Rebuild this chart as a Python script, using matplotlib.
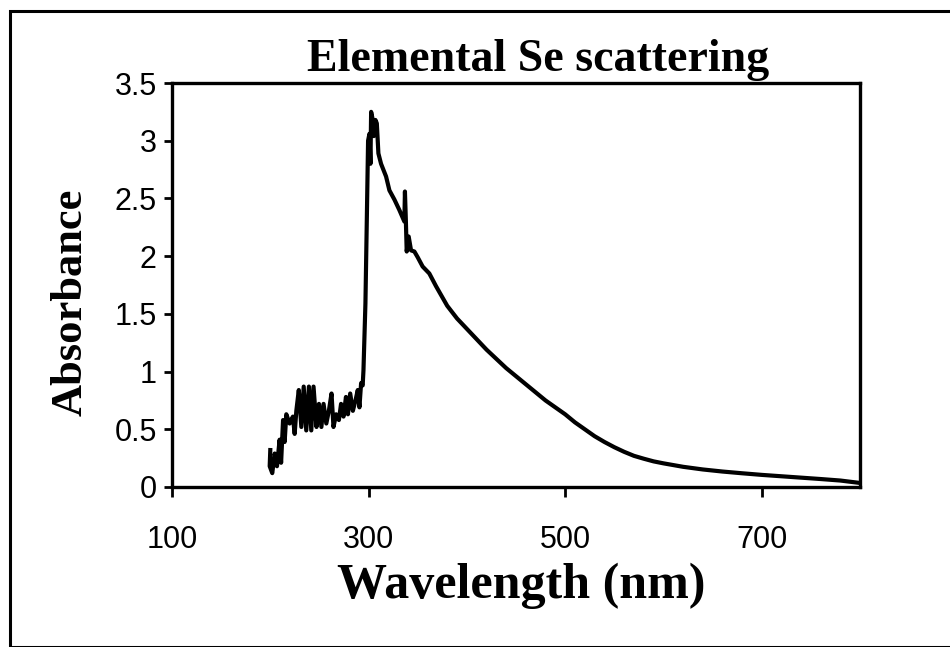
import matplotlib.pyplot as plt
from matplotlib.patches import Rectangle

# wavelength (nm) and absorbance
wavelength = [200, 199.4, 202, 204.5, 206.8, 209.5, 211, 213, 214.6, 216.3,
              219.7, 223, 224.8, 226.5, 229, 231.6, 234, 236.6, 239.3, 241.7,
              244, 247, 249.5, 252, 254.2, 257, 259.6, 262.3, 264.3, 267,
              269.8, 272, 274.5, 277, 279, 281.3, 284, 286.7, 289, 290.7,
              292.4, 294, 294.8, 296.8, 298.2, 299.5, 300.9, 301.9, 302.6, 304.3,
              305.3, 307, 308.4, 310, 312.7, 317.8, 321.2, 326.3, 331.3, 336.4,
              337, 338, 338.8, 340.8, 343.2, 346.6, 350, 355, 361.8, 368.6,
              380, 390, 400, 410, 420, 430, 440, 450, 460, 470,
              480, 490, 500, 510, 520, 530, 540, 550, 560, 570,
              580, 590, 600, 620, 640, 660, 680, 700, 720, 740,
              760, 780, 800]
absorbance = [0.32, 0.18, 0.12, 0.29, 0.18, 0.41, 0.21, 0.58, 0.39, 0.63,
              0.55, 0.61, 0.46, 0.66, 0.84, 0.52, 0.87, 0.49, 0.87, 0.49,
              0.87, 0.52, 0.72, 0.52, 0.72, 0.55, 0.66, 0.81, 0.52, 0.63,
              0.58, 0.72, 0.61, 0.78, 0.63, 0.81, 0.66, 0.75, 0.84, 0.69,
              0.90, 0.88, 1.01, 1.59, 2.31, 3.00, 3.06, 2.80, 3.25, 3.18,
              3.04, 3.18, 3.15, 2.89, 2.80, 2.69, 2.57, 2.49, 2.40, 2.30,
              2.56, 2.29, 2.04, 2.17, 2.05, 2.04, 1.99, 1.91, 1.85, 1.74,
              1.57, 1.46, 1.37, 1.28, 1.19, 1.11, 1.03, 0.96, 0.89, 0.82,
              0.75, 0.69, 0.63, 0.56, 0.50, 0.44, 0.39, 0.345, 0.305, 0.27,
              0.245, 0.222, 0.205, 0.175, 0.152, 0.134, 0.119, 0.105, 0.093, 0.081,
              0.069, 0.056, 0.035]

xticks = [100, 300, 500, 700]
yticks = [0, 0.5, 1, 1.5, 2, 2.5, 3, 3.5]
ytick_labels = ["0", "0.5", "1", "1.5", "2", "2.5", "3", "3.5"]

W, H = 950, 647
fig = plt.figure(figsize=(9.5, 6.47), dpi=100)
fig.patches.append(Rectangle((10 / W, 0), 1.5, 1 - 11 / H, transform=fig.transFigure,
                             fill=False, edgecolor="black", linewidth=2.2))

ax = fig.add_axes([172 / W, 1 - 487 / H, (860 - 172) / W, (487 - 83) / H])
ax.plot(wavelength, absorbance, color="black", linewidth=3.0, solid_joinstyle="round")

ax.set_xlim(100, 800)
ax.set_ylim(0, 3.5)
ax.set_xticks(xticks)
ax.set_yticks(yticks)
ax.set_yticklabels(ytick_labels)
for s in ax.spines.values():
    s.set_linewidth(2.4)
ax.tick_params(axis="x", direction="out", length=7, width=2, pad=20)
ax.tick_params(axis="y", direction="out", length=6, width=2, pad=5)
for lab in ax.get_xticklabels() + ax.get_yticklabels():
    lab.set_family("Liberation Sans")
    lab.set_fontsize(22)

serif = "Liberation Serif"
fig.text(538 / W, 1 - 60 / H, "Elemental Se scattering", ha="center", va="center",
         fontsize=33, fontweight="bold", family=serif)
fig.text(521 / W, 1 - 586 / H, "Wavelength (nm)", ha="center", va="center",
         fontsize=36, fontweight="bold", family=serif)
fig.text(71 / W, 1 - 302 / H, "Absorbance", ha="center", va="center", rotation=90,
         fontsize=32, fontweight="bold", family=serif)

fig.savefig("out.png", dpi=100)
